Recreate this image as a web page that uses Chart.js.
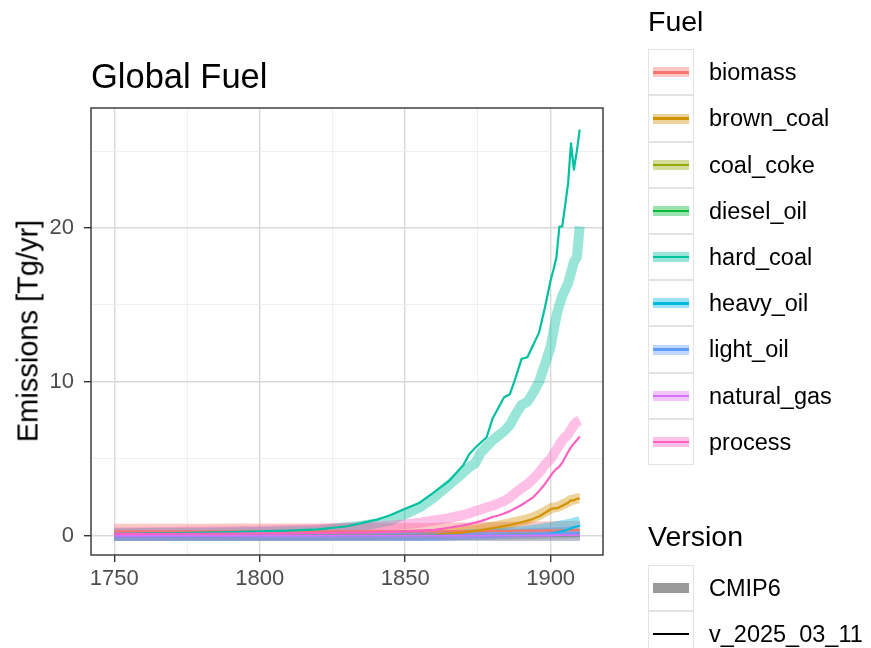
<!DOCTYPE html>
<html>
<head>
<meta charset="utf-8">
<title>Global Fuel</title>
<script src="https://cdn.jsdelivr.net/npm/chart.js@4.4.1/dist/chart.umd.min.js"></script>
<style>
  body { margin: 0; background: #fff; }
  #wrap { position: relative; width: 871px; height: 648px; overflow: hidden;
          font-family: "Liberation Sans", Arial, Helvetica, sans-serif; }
  #plot { position: absolute; left: 0; top: 0; }
  .txt { position: absolute; white-space: nowrap; line-height: 1; color: #000; }
  .row { position: absolute; left: 0; width: 220px; height: 46.2px; }
  .key { position: absolute; left: 0; top: 0; width: 46px; height: 46.2px; box-sizing: border-box;
         border: 1.5px solid #e3e3e3; background: #fff; }
  .band { position: absolute; left: 4px; right: 4px; top: 50%; height: 10px; margin-top: -5px; }
  .line { position: absolute; left: 4px; right: 4px; top: 50%; height: 2.4px; margin-top: -1.2px; }
  .lab { position: absolute; left: 61px; top: 0; line-height: 46.2px; font-size: 23.5px; color: #000; white-space: nowrap; }
</style>
</head>
<body>
<div id="wrap">
  <canvas id="plot" width="871" height="648"></canvas>
  <div class="txt" style="left:91px; top:59px; font-size:34.5px;">Global Fuel</div>
  <div class="txt" style="left:28px; top:331px; font-size:29px; transform: translate(-50%, -50%) rotate(-90deg);">Emissions [Tg/yr]</div>
  <div class="txt" style="left:648px; top:7px; font-size:28.5px;">Fuel</div>
  <div id="fuelKeys" style="position:absolute; left:648px; top:49.3px;"></div>
  <div class="txt" style="left:648px; top:522px; font-size:28.5px;">Version</div>
  <div id="versionKeys" style="position:absolute; left:648px; top:565px;"></div>
</div>
<script>
// years shared by every series
const years = [1750, 1760, 1770, 1780, 1790, 1800, 1810, 1820,
  1830, 1835, 1840, 1845, 1850, 1855, 1860, 1865, 1870,
  1872, 1874, 1876, 1878, 1880, 1882, 1884, 1886, 1888, 1890, 1892, 1894, 1896, 1898,
  1900, 1901, 1902, 1903, 1904, 1905, 1906, 1907, 1908, 1909, 1910];

const fuels = ["biomass", "brown_coal", "coal_coke", "diesel_oil", "hard_coal",
  "heavy_oil", "light_oil", "natural_gas", "process"];
const fuelColors = ["#F8766D", "#D39200", "#93AA00", "#00BA38", "#00C19F",
  "#00B9E3", "#619CFF", "#DB72FB", "#FF61C3"];
const versions = ["CMIP6", "v_2025_03_11"];

// Tg/yr, CMIP6 (thick band) and v_2025_03_11 (thin line)
const biomassCmip6 = [0.45, 0.45, 0.46, 0.46, 0.47, 0.47, 0.48, 0.48,
  0.49, 0.49, 0.5, 0.5, 0.5, 0.51, 0.52, 0.53, 0.54,
  0.54, 0.55, 0.55, 0.56, 0.56, 0.57, 0.57, 0.58, 0.58, 0.59, 0.6, 0.6, 0.61, 0.62,
  0.62, 0.62, 0.63, 0.63, 0.63, 0.64, 0.64, 0.64, 0.65, 0.65, 0.65];
const biomassV2025 = [0.28, 0.28, 0.28, 0.28, 0.28, 0.28, 0.28, 0.28,
  0.28, 0.28, 0.28, 0.28, 0.28, 0.29, 0.29, 0.3, 0.3,
  0.3, 0.3, 0.31, 0.31, 0.31, 0.32, 0.32, 0.32, 0.33, 0.33, 0.33, 0.34, 0.34, 0.35,
  0.35, 0.35, 0.35, 0.36, 0.36, 0.36, 0.36, 0.37, 0.37, 0.37, 0.37];

const brownCoalCmip6 = [0.02, 0.02, 0.02, 0.02, 0.02, 0.02, 0.02, 0.02,
  0.03, 0.03, 0.04, 0.05, 0.06, 0.08, 0.12, 0.19, 0.28,
  0.33, 0.39, 0.45, 0.52, 0.59, 0.66, 0.73, 0.8, 0.9, 0.98, 1.08, 1.2, 1.35, 1.56,
  1.78, 1.84, 1.86, 1.92, 2.02, 2.1, 2.2, 2.33, 2.35, 2.43, 2.42];
const brownCoalV2025 = [0.01, 0.01, 0.01, 0.01, 0.01, 0.01, 0.01, 0.01,
  0.02, 0.02, 0.02, 0.03, 0.04, 0.05, 0.08, 0.14, 0.22,
  0.27, 0.32, 0.37, 0.43, 0.5, 0.56, 0.63, 0.7, 0.8, 0.88, 0.98, 1.1, 1.25, 1.48,
  1.72, 1.78, 1.78, 1.85, 1.95, 2.05, 2.15, 2.3, 2.3, 2.4, 2.42];

const coalCokeCmip6 = [0, 0, 0, 0, 0, 0, 0, 0,
  0, 0, 0, 0, 0.01, 0.02, 0.03, 0.04, 0.05,
  0.05, 0.06, 0.06, 0.07, 0.07, 0.08, 0.08, 0.09, 0.1, 0.1, 0.11, 0.12, 0.13, 0.14,
  0.15, 0.15, 0.16, 0.16, 0.17, 0.17, 0.18, 0.18, 0.19, 0.19, 0.2];
const coalCokeV2025 = [0, 0, 0, 0, 0, 0, 0, 0,
  0, 0, 0, 0, 0, 0.01, 0.02, 0.02, 0.03,
  0.03, 0.04, 0.04, 0.05, 0.05, 0.06, 0.06, 0.07, 0.07, 0.08, 0.08, 0.09, 0.1, 0.1,
  0.11, 0.11, 0.12, 0.12, 0.12, 0.13, 0.13, 0.14, 0.14, 0.15, 0.15];

const dieselOilCmip6 = [0, 0, 0, 0, 0, 0, 0, 0,
  0, 0, 0, 0, 0, 0, 0, 0, 0,
  0, 0, 0, 0, 0, 0, 0, 0, 0, 0, 0, 0, 0, 0,
  0, 0, 0, 0, 0, 0, 0, 0, 0, 0, 0];
const dieselOilV2025 = [0, 0, 0, 0, 0, 0, 0, 0,
  0, 0, 0, 0, 0, 0, 0, 0, 0,
  0, 0, 0, 0, 0, 0, 0, 0, 0, 0, 0, 0, 0, 0,
  0, 0, 0, 0, 0, 0, 0, 0, 0, 0, 0];

const hardCoalCmip6 = [0.17, 0.18, 0.19, 0.2, 0.22, 0.24, 0.29, 0.35,
  0.55, 0.65, 0.8, 1.0, 1.4, 1.85, 2.5, 3.3, 4.1,
  4.45, 4.7, 5.4, 5.8, 6.2, 6.5, 6.8, 7.2, 7.9, 8.5, 8.7, 9.3, 10.0, 11.1,
  12.3, 13.3, 14.3, 15.0, 15.6, 16.0, 16.4, 17.1, 17.8, 18.1, 20.1];
const hardCoalV2025 = [0.13, 0.15, 0.17, 0.2, 0.24, 0.28, 0.34, 0.41,
  0.62, 0.82, 1.03, 1.35, 1.76, 2.15, 2.84, 3.55, 4.6,
  5.3, 5.7, 6.05, 6.4, 7.6, 8.3, 9.0, 9.2, 10.3, 11.5, 11.6, 12.4, 13.2, 14.8,
  16.6, 17.3, 18.1, 20.1, 20.1, 21.5, 22.9, 25.5, 23.8, 25.0, 26.4];

const heavyOilCmip6 = [0, 0, 0, 0, 0, 0, 0, 0,
  0, 0, 0, 0, 0, 0, 0, 0.03, 0.06,
  0.08, 0.1, 0.11, 0.13, 0.15, 0.18, 0.2, 0.23, 0.26, 0.3, 0.34, 0.39, 0.44, 0.5,
  0.55, 0.58, 0.62, 0.65, 0.69, 0.72, 0.76, 0.8, 0.85, 0.9, 0.95];
const heavyOilV2025 = [0, 0, 0, 0, 0, 0, 0, 0,
  0, 0, 0, 0, 0, 0, 0, 0, 0,
  0, 0, 0, 0, 0, 0, 0.01, 0.02, 0.02, 0.03, 0.04, 0.06, 0.08, 0.1,
  0.15, 0.18, 0.22, 0.26, 0.3, 0.35, 0.41, 0.48, 0.55, 0.6, 0.65];

const lightOilCmip6 = [0, 0, 0, 0, 0, 0, 0, 0,
  0, 0, 0, 0, 0, 0, 0, 0.03, 0.05,
  0.06, 0.07, 0.08, 0.09, 0.1, 0.11, 0.12, 0.13, 0.14, 0.15, 0.16, 0.18, 0.19, 0.21,
  0.22, 0.23, 0.24, 0.25, 0.26, 0.26, 0.27, 0.28, 0.29, 0.3, 0.3];
const lightOilV2025 = [0, 0, 0, 0, 0, 0, 0, 0,
  0, 0, 0, 0, 0, 0, 0, 0.01, 0.02,
  0.02, 0.03, 0.03, 0.04, 0.05, 0.05, 0.06, 0.06, 0.07, 0.08, 0.08, 0.09, 0.1, 0.11,
  0.12, 0.12, 0.13, 0.14, 0.14, 0.15, 0.16, 0.16, 0.17, 0.17, 0.18];

const naturalGasCmip6 = [0, 0, 0, 0, 0, 0, 0, 0,
  0, 0, 0, 0, 0, 0, 0, 0, 0,
  0, 0, 0, 0, 0, 0, 0, 0, 0, 0, 0, 0, 0, 0,
  0, 0, 0, 0, 0, 0, 0, 0, 0, 0, 0];
const naturalGasV2025 = [0, 0, 0, 0, 0, 0, 0, 0,
  0, 0, 0, 0, 0, 0, 0, 0, 0,
  0, 0, 0, 0, 0, 0, 0, 0, 0, 0, 0, 0.01, 0.01, 0.01,
  0.01, 0.01, 0.02, 0.02, 0.02, 0.02, 0.02, 0.03, 0.03, 0.03, 0.03];

const processCmip6 = [0.22, 0.23, 0.25, 0.27, 0.3, 0.33, 0.37, 0.42,
  0.5, 0.55, 0.6, 0.67, 0.74, 0.85, 1.0, 1.15, 1.35,
  1.45, 1.6, 1.7, 1.85, 1.95, 2.1, 2.25, 2.5, 2.8, 3.1, 3.35, 3.7, 4.1, 4.6,
  5.0, 5.3, 5.6, 5.9, 6.2, 6.4, 6.6, 6.9, 7.2, 7.4, 7.5];
const processV2025 = [0.12, 0.12, 0.13, 0.13, 0.14, 0.15, 0.16, 0.18,
  0.2, 0.21, 0.23, 0.25, 0.28, 0.33, 0.38, 0.52, 0.68,
  0.76, 0.85, 0.95, 1.08, 1.22, 1.32, 1.45, 1.6, 1.8, 2.0, 2.25, 2.5, 2.9, 3.35,
  3.9, 4.15, 4.35, 4.5, 4.75, 5.1, 5.45, 5.75, 6.0, 6.2, 6.45];

const cmip6Series = [biomassCmip6, brownCoalCmip6, coalCokeCmip6, dieselOilCmip6, hardCoalCmip6,
  heavyOilCmip6, lightOilCmip6, naturalGasCmip6, processCmip6];
const v2025Series = [biomassV2025, brownCoalV2025, coalCokeV2025, dieselOilV2025, hardCoalV2025,
  heavyOilV2025, lightOilV2025, naturalGasV2025, processV2025];

// axis ticks (major get labels, minor only grid)
const xTicks = [1750, 1775, 1800, 1825, 1850, 1875, 1900];
const xMajor = [1750, 1800, 1850, 1900];
const yTicks = [0, 5, 10, 15, 20, 25];
const yMajor = [0, 10, 20];

function rgba(hex, a) {
  const n = parseInt(hex.slice(1), 16);
  return "rgba(" + (n >> 16) + "," + ((n >> 8) & 255) + "," + (n & 255) + "," + a + ")";
}
function toXY(vals) {
  return years.map((y, i) => ({ x: y, y: vals[i] }));
}

const datasets = [];
fuels.forEach((f, i) => {
  datasets.push({
    label: f + " CMIP6",
    data: toXY(cmip6Series[i]),
    borderColor: rgba(fuelColors[i], 0.4),
    borderWidth: 10,
    borderCapStyle: "butt",
    borderJoinStyle: "round",
    pointRadius: 0,
    tension: 0,
    order: 100 + (fuels.length - i)
  });
  datasets.push({
    label: f + " v_2025_03_11",
    data: toXY(v2025Series[i]),
    borderColor: fuelColors[i],
    borderWidth: 2.2,
    borderCapStyle: "butt",
    borderJoinStyle: "round",
    pointRadius: 0,
    tension: 0,
    order: fuels.length - i
  });
});

// ggplot-style panel border over everything
const panelBorder = {
  id: "panelBorder",
  afterDraw(chart) {
    const a = chart.chartArea, ctx = chart.ctx;
    ctx.save();
    ctx.strokeStyle = "#333333";
    ctx.lineWidth = 1.4;
    ctx.strokeRect(a.left, a.top, a.right - a.left, a.bottom - a.top);
    ctx.restore();
  }
};

Chart.defaults.font.family = '"Liberation Sans", Arial, Helvetica, sans-serif';

new Chart(document.getElementById("plot"), {
  type: "line",
  data: { datasets: datasets },
  options: {
    responsive: false,
    animation: false,
    layout: { padding: { top: 108, right: 268, left: 0, bottom: 0 } },
    plugins: { legend: { display: false }, tooltip: { enabled: false } },
    scales: {
      x: {
        type: "linear",
        min: 1742,
        max: 1918,
        afterBuildTicks: s => { s.ticks = xTicks.map(v => ({ value: v })); },
        afterFit: s => { s.height = 93; },
        border: { display: false },
        grid: {
          color: c => xMajor.includes(c.tick.value) ? "#d9d9d9" : "#ebebeb",
          lineWidth: c => xMajor.includes(c.tick.value) ? 1.4 : 0.8,
          tickColor: c => xMajor.includes(c.tick.value) ? "#333333" : "rgba(0,0,0,0)",
          tickWidth: 1.4,
          tickLength: 7
        },
        ticks: {
          autoSkip: false,
          maxRotation: 0,
          padding: 4,
          color: "#4d4d4d",
          font: { size: 22 },
          callback: v => xMajor.includes(v) ? String(v) : ""
        }
      },
      y: {
        type: "linear",
        min: -1.25,
        max: 27.8,
        afterBuildTicks: s => { s.ticks = yTicks.map(v => ({ value: v })); },
        afterFit: s => { s.width = 91; },
        border: { display: false },
        grid: {
          color: c => yMajor.includes(c.tick.value) ? "#d9d9d9" : "#ebebeb",
          lineWidth: c => yMajor.includes(c.tick.value) ? 1.4 : 0.8,
          tickColor: c => yMajor.includes(c.tick.value) ? "#333333" : "rgba(0,0,0,0)",
          tickWidth: 1.4,
          tickLength: 7
        },
        ticks: {
          autoSkip: false,
          padding: 10,
          color: "#4d4d4d",
          font: { size: 22 },
          callback: v => yMajor.includes(v) ? String(v) : ""
        }
      }
    }
  },
  plugins: [panelBorder]
});

// legends
const fuelKeys = document.getElementById("fuelKeys");
fuels.forEach((f, i) => {
  const row = document.createElement("div");
  row.className = "row";
  row.style.top = (i * 46.2) + "px";
  row.innerHTML = '<div class="key"><div class="band" style="background:' + rgba(fuelColors[i], 0.4) +
    '"></div><div class="line" style="background:' + fuelColors[i] + '"></div></div><div class="lab">' + f + '</div>';
  fuelKeys.appendChild(row);
});
const versionKeys = document.getElementById("versionKeys");
versions.forEach((v, i) => {
  const row = document.createElement("div");
  row.className = "row";
  row.style.top = (i * 46.2) + "px";
  const mark = i === 0
    ? '<div class="band" style="background:' + rgba("#000000", 0.4) + '"></div>'
    : '<div class="line" style="background:#000"></div>';
  row.innerHTML = '<div class="key">' + mark + '</div><div class="lab">' + v + '</div>';
  versionKeys.appendChild(row);
});
</script>
</body>
</html>
